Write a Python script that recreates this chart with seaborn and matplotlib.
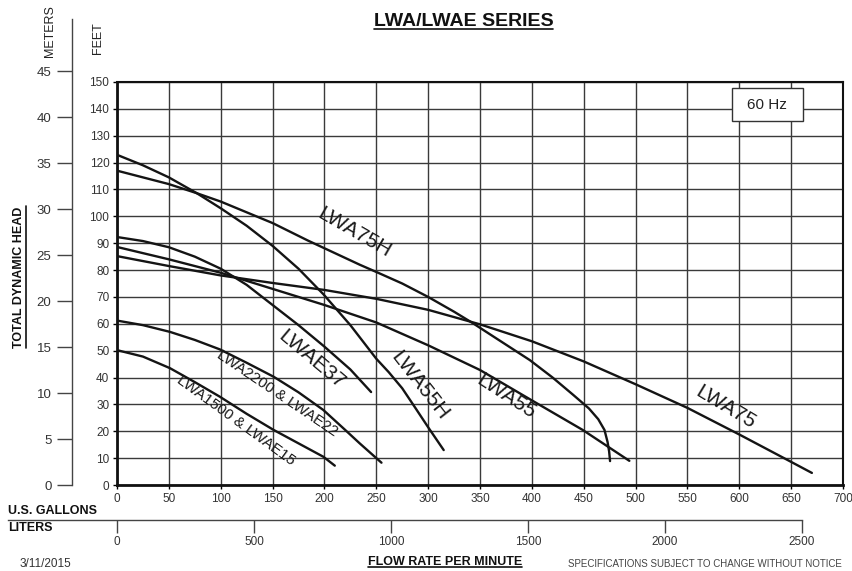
import matplotlib
matplotlib.use("Agg")
import matplotlib.pyplot as plt
import seaborn as sns
import pandas as pd
from matplotlib.lines import Line2D
from matplotlib.patches import Rectangle

# pump curves: flow (US gpm) vs total dynamic head (ft)
lwa75h_gpm = [0, 25, 50, 77, 100, 150, 184, 234, 250, 275, 300, 325, 342, 370, 398, 420, 440, 455, 464, 470, 473, 474.5, 475.4]
lwa75h_ft = [117, 114.5, 112, 108.6, 105.5, 97.5, 91, 82, 79.3, 75, 70, 64.5, 60.5, 53.5, 46.5, 40, 33.5, 28.5, 24.5, 20.5, 16, 12.5, 8.9]

lwa55h_gpm = [0, 25, 50, 77, 100, 125, 150, 175, 199, 225, 250, 262, 275, 288, 300, 315]
lwa55h_ft = [122.9, 119, 114.5, 108.6, 103, 96.5, 89, 80.5, 71, 59.5, 47, 42, 36, 28.5, 21.5, 13]

lwae37_gpm = [0, 25, 50, 75, 100, 125, 150, 175, 200, 225, 245]
lwae37_ft = [92.3, 90.8, 88.5, 85, 80.5, 74.5, 67, 59.5, 51.5, 43, 34.6]

lwa55_gpm = [0, 50, 100, 150, 200, 250, 300, 350, 400, 449, 494]
lwa55_ft = [88.6, 84, 79, 73, 67, 60.5, 52, 42.8, 31.5, 20.5, 9]

lwa75_gpm = [0, 50, 100, 150, 200, 250, 300, 350, 400, 450, 500, 550, 600, 650, 670]
lwa75_ft = [85.2, 81.5, 78, 75.2, 72.6, 69.3, 65.2, 59.8, 53.5, 46, 37.5, 28.7, 18.8, 8.6, 4.5]

lwa22_gpm = [0, 25, 51, 75, 99, 125, 151, 175, 199, 220, 234, 255]
lwa22_ft = [61.2, 59.5, 57, 54, 50.5, 45.5, 40.3, 34.5, 27.9, 20.5, 15.5, 8.3]

lwa15_gpm = [0, 25, 51, 75, 99, 125, 151, 175, 199, 210]
lwa15_ft = [50.2, 47.8, 43.5, 38.3, 32.9, 26.5, 20.5, 15.5, 10.5, 7.2]

curve_names = ["LWA75H", "LWA55H", "LWAE37", "LWA55", "LWA75",
               "LWA2200 & LWAE22", "LWA1500 & LWAE15"]
curve_data = [(lwa75h_gpm, lwa75h_ft), (lwa55h_gpm, lwa55h_ft), (lwae37_gpm, lwae37_ft),
              (lwa55_gpm, lwa55_ft), (lwa75_gpm, lwa75_ft), (lwa22_gpm, lwa22_ft),
              (lwa15_gpm, lwa15_ft)]

# label placement (gpm, ft, angle)
label_pos = {
    "LWA75H": (229, 94, -30),
    "LWA55H": (292, 37, -52),
    "LWA55": (375, 33, -33),
    "LWA75": (587, 29, -31),
    "LWAE37": (188, 46.5, -40),
    "LWA2200 & LWAE22": (154, 34, -34),
    "LWA1500 & LWAE15": (115, 24, -36),
}

L_PER_GAL = 3.785
liter_ticks = [0, 500, 1000, 1500, 2000, 2500]
meter_ticks = [0, 5, 10, 15, 20, 25, 30, 35, 40, 45]

rows = []
for name, (g, f) in zip(curve_names, curve_data):
    for a, b in zip(g, f):
        rows.append((name, a, b))
df = pd.DataFrame(rows, columns=["curve", "gpm", "ft"])

sns.set_style("white")
plt.rcParams['font.family'] = ['Liberation Sans', 'DejaVu Sans']

W, H = 853, 571
def fx(px):
    return px / W
def fy(py):
    return 1 - py / H

fig = plt.figure(figsize=(W / 100, H / 100), dpi=100)

# main plot: 117..843 px wide, 82..485 px tall
ax = fig.add_axes([fx(117), fy(485), (843 - 117) / W, (485 - 82) / H])
sns.lineplot(data=df, x="gpm", y="ft", units="curve", estimator=None, sort=False,
             color="#141414", lw=1.7, ax=ax, zorder=4)
ax.set_xlim(0, 700)
ax.set_ylim(0, 150)
ax.set_xticks(range(0, 701, 50))
ax.set_yticks(range(0, 151, 10))
ax.set_xlabel("")
ax.set_ylabel("")
ax.grid(True, color="#3a3a3a", lw=1.0)
ax.set_axisbelow(True)
ax.tick_params(axis="both", labelsize=8.5, labelcolor="#333333", length=3, width=1,
               color="black", pad=2.5, left=True, bottom=True)
for s in ["left", "bottom"]:
    ax.spines[s].set_linewidth(2.0)
for s in ["top", "right"]:
    ax.spines[s].set_linewidth(1.5)
for s in ax.spines.values():
    s.set_color("#111111")

for name, (x, y, rot) in label_pos.items():
    small = "&" in name
    ax.text(x, y, name, rotation=rot, rotation_mode="anchor", ha="center", va="center",
            fontsize=11 if small else 15, color="#1a1a1a", zorder=5)

# 60 Hz box
ax.add_patch(Rectangle((593, 135.5), 68.5, 12.2, facecolor="white", edgecolor="#333333",
                       lw=1.0, zorder=5))
ax.text(627, 141.6, "60 Hz", ha="center", va="center", fontsize=11, color="#222222", zorder=6)

# meters scale on the far left
axm = fig.add_axes([fx(72), fy(485), 0.0001, (485 - 19) / H])
axm.set_ylim(0, (485 - 19) / 9.2)
axm.set_yticks(meter_ticks)
axm.set_xticks([])
axm.patch.set_visible(False)
for s in ["top", "right", "bottom"]:
    axm.spines[s].set_visible(False)
axm.spines["left"].set_color("#444444")
axm.spines["left"].set_linewidth(1.0)
axm.tick_params(axis="y", direction="out", length=10.8, width=1, color="#444444",
                labelsize=9.5, labelcolor="#333333", pad=4, left=True, right=False)

# liters scale under the gallons axis
axl = fig.add_axes([fx(8), fy(520), (843 - 8) / W, 0.0001])
gpm_left = -(117 - 8) / (843 - 117) * 700
axl.set_xlim(gpm_left * L_PER_GAL, 700 * L_PER_GAL)
axl.set_xticks(liter_ticks)
axl.set_yticks([])
axl.patch.set_visible(False)
for s in ["top", "right", "left"]:
    axl.spines[s].set_visible(False)
axl.spines["bottom"].set_bounds(gpm_left * L_PER_GAL, 2500)
axl.spines["bottom"].set_color("#444444")
axl.spines["bottom"].set_linewidth(1.0)
axl.tick_params(axis="x", direction="out", length=9.4, width=1, color="#444444",
                labelsize=8.5, labelcolor="#333333", pad=2, bottom=True, top=False)

# texts
title = fig.text(fx(463.5), fy(22), "LWA/LWAE SERIES", ha="center", va="center",
                 fontsize=14, fontweight="bold", color="#111111")
fig.text(fx(50), fy(31), "METERS", rotation=90, ha="center", va="center", fontsize=9,
         color="#222222")
fig.text(fx(98), fy(38), "FEET", rotation=90, ha="center", va="center", fontsize=9,
         color="#222222")
tdh = fig.text(fx(19), fy(277), "TOTAL DYNAMIC HEAD", rotation=90, ha="center", va="center",
               fontsize=9, fontweight="bold", color="#111111")
fig.text(fx(8), fy(511), "U.S. GALLONS", ha="left", va="center", fontsize=9,
         fontweight="bold", color="#111111")
fig.text(fx(8), fy(528), "LITERS", ha="left", va="center", fontsize=9,
         fontweight="bold", color="#111111")
fig.text(fx(20), fy(564), "3/11/2015", ha="left", va="center", fontsize=8.5, color="#333333")
flow = fig.text(fx(445), fy(562), "FLOW RATE PER MINUTE", ha="center", va="center",
                fontsize=9, fontweight="bold", color="#111111")
fig.text(fx(842), fy(564), "SPECIFICATIONS SUBJECT TO CHANGE WITHOUT NOTICE", ha="right",
         va="center", fontsize=7, color="#444444")

# underlines
fig.canvas.draw()
rend = fig.canvas.get_renderer()
inv = fig.transFigure.inverted()

def underline(t, side="bottom"):
    bb = t.get_window_extent(renderer=rend).transformed(inv)
    if side == "bottom":
        fig.add_artist(Line2D([bb.x0, bb.x1], [bb.y0 + 0.002] * 2, transform=fig.transFigure,
                              color="#111111", lw=1.2))
    else:
        fig.add_artist(Line2D([bb.x1 + 0.0015] * 2, [bb.y0, bb.y1], transform=fig.transFigure,
                              color="#111111", lw=1.2))

underline(title)
underline(flow)
underline(tdh, side="right")

fig.savefig("out.png", dpi=100)
